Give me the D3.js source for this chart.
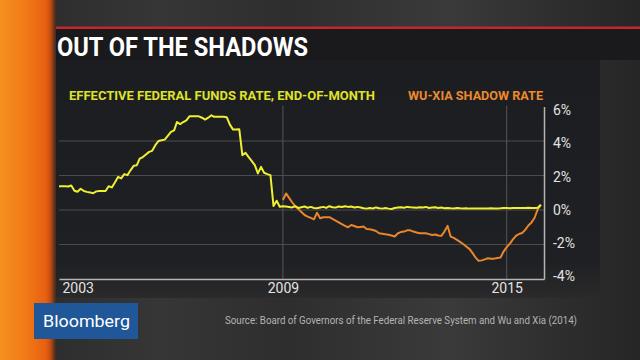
<!DOCTYPE html>
<html>
<head>
<meta charset="utf-8">
<script src="https://cdn.jsdelivr.net/npm/d3@7"></script>
<style>
  body { margin: 0; background: #2d2d2d; overflow: hidden; }
  svg { display: block; }
  text { font-family: Roboto, "Liberation Sans", sans-serif; }
</style>
</head>
<body>
<script>
// effective fed funds rate, end of month, Jan 2003 - Dec 2015
const fedFunds = [
  1.38, 1.37, 1.37, 1.36, 1.42, 1.12, 1.06, 1.23, 1.10, 1.05, 1.02, 0.97,  // 2003
  1.08, 1.10, 1.10, 1.10, 1.38, 1.31, 1.60, 1.92, 1.83, 2.08, 2.02, 2.30,  // 2004
  2.56, 2.60, 2.98, 3.07, 3.22, 3.37, 3.43, 3.76, 4.00, 4.04, 4.08, 4.30,  // 2005
  4.53, 4.62, 5.10, 4.98, 5.10, 5.20, 5.43, 5.43, 5.43, 5.43, 5.35, 5.24,  // 2006
  5.35, 5.49, 5.40, 5.40, 5.40, 5.40, 5.38, 4.95, 4.66, 4.66, 4.68, 3.18,  // 2007
  3.31, 3.06, 2.85, 2.60, 2.12, 2.50, 2.16, 2.08, 2.02, 0.23, 0.54, 0.19,  // 2008
  0.22, 0.20, 0.18, 0.15, 0.22, 0.12, 0.16, 0.20, 0.13, 0.18, 0.12, 0.10,  // 2009
  0.14, 0.18, 0.12, 0.22, 0.16, 0.14, 0.20, 0.17, 0.22, 0.18, 0.20, 0.15,  // 2010
  0.18, 0.14, 0.10, 0.08, 0.12, 0.09, 0.15, 0.10, 0.08, 0.12, 0.08, 0.06,  // 2011
  0.12, 0.14, 0.16, 0.13, 0.18, 0.16, 0.15, 0.13, 0.16, 0.15, 0.18, 0.12,  // 2012
  0.14, 0.16, 0.12, 0.14, 0.10, 0.12, 0.10, 0.09, 0.12, 0.10, 0.09, 0.10,  // 2013
  0.08, 0.08, 0.09, 0.08, 0.09, 0.08, 0.09, 0.10, 0.09, 0.09, 0.10, 0.12,  // 2014
  0.11, 0.10, 0.12, 0.11, 0.12, 0.12, 0.12, 0.13, 0.12, 0.12, 0.13, 0.30   // 2015
];

// Wu-Xia shadow rate, Jan 2009 - Dec 2015
const shadowRate = [
   0.58,  0.96,  0.72,  0.45,  0.22,  0.05, -0.12, -0.29, -0.38, -0.46, -0.54, -0.16,  // 2009
  -0.48, -0.42, -0.42, -0.42, -0.52, -0.62, -0.72, -0.82, -0.92, -1.00, -0.87, -0.93,  // 2010
  -1.00, -0.98, -0.96, -1.10, -1.12, -1.16, -1.22, -1.35, -1.38, -1.41, -1.43, -1.48,  // 2011
  -1.54, -1.35, -1.28, -1.25, -1.18, -1.18, -1.25, -1.30, -1.35, -1.35, -1.35, -1.40,  // 2012
  -1.45, -1.42, -1.48, -1.50, -1.25, -0.92, -1.54, -1.62, -1.73, -1.85, -1.97, -2.12,  // 2013
  -2.25, -2.50, -2.75, -2.95, -2.92, -2.86, -2.80, -2.83, -2.82, -2.78, -2.76, -2.41,  // 2014
  -2.15, -1.95, -1.72, -1.50, -1.39, -1.33, -1.15, -0.90, -0.72, -0.45,  0.05,  0.30   // 2015
];

const fedStart = [2003, 0];
const shadowStart = [2009, 0];
const yearTicks = [2003, 2009, 2015];
const pctTicks = [-4, -2, 0, 2, 4, 6];

const titleText = "OUT OF THE SHADOWS";
const fedLabel = "EFFECTIVE FEDERAL FUNDS RATE, END-OF-MONTH";
const shadowLabel = "WU-XIA SHADOW RATE";
const sourceText = "Source: Board of Governors of the Federal Reserve System and Wu and Xia (2014)";

function toSeries(values, start) {
  return values.map((v, i) => ({ date: new Date(start[0], start[1] + i, 1), value: v }));
}

const fedData = toSeries(fedFunds, fedStart);
const shadowData = toSeries(shadowRate, shadowStart);

const width = 640, height = 360;
const plot = { left: 59, right: 544, top: 106.5, bottom: 279 };

const svg = d3.select("body").append("svg")
  .attr("width", width)
  .attr("height", height);

const defs = svg.append("defs");

const bg = defs.append("linearGradient").attr("id", "bg").attr("x1", 0).attr("x2", 1).attr("y1", 0).attr("y2", 0);
[[0, "#2a2a2a"], [0.25, "#363636"], [0.45, "#2e2e2e"], [0.7, "#3a3a3a"], [0.9, "#2c2c2c"], [1, "#262626"]]
  .forEach(s => bg.append("stop").attr("offset", s[0]).attr("stop-color", s[1]));

const orange = defs.append("linearGradient").attr("id", "orange").attr("x1", 0).attr("x2", 1).attr("y1", 0).attr("y2", 0);
[[0, "#f5901f"], [0.45, "#f27a18"], [0.82, "#e86010"], [0.9, "#c44c0e"], [1, "#3a2a22"]]
  .forEach(s => orange.append("stop").attr("offset", s[0]).attr("stop-color", s[1]));

const panelFade = defs.append("linearGradient").attr("id", "panelFade").attr("x1", 0).attr("x2", 0).attr("y1", 0).attr("y2", 1);
[[0, "#1c1d20"], [0.85, "#1f2023"], [1, "#2a2a2b"]]
  .forEach(s => panelFade.append("stop").attr("offset", s[0]).attr("stop-color", s[1]));

// background, orange strip, title bar, chart panel
svg.append("rect").attr("width", width).attr("height", height).attr("fill", "url(#bg)");
svg.append("rect").attr("x", 55).attr("y", 60).attr("width", 545).attr("height", 238).attr("fill", "url(#panelFade)");
svg.append("rect").attr("x", 55).attr("y", 28).attr("width", 585).attr("height", 32).attr("fill", "#1a1a1c");
svg.append("rect").attr("x", 55).attr("y", 26.5).attr("width", 585).attr("height", 2.5).attr("fill", "#c4262b");
svg.append("rect").attr("x", 0).attr("y", 0).attr("width", 56).attr("height", height).attr("fill", "url(#orange)");

svg.append("text")
  .attr("x", 57).attr("y", 56)
  .attr("fill", "#ffffff")
  .attr("font-size", 26)
  .attr("font-weight", 700)
  .attr("textLength", 251)
  .attr("lengthAdjust", "spacingAndGlyphs")
  .text(titleText);

svg.append("text")
  .attr("x", 69).attr("y", 99.5)
  .attr("fill", "#dfe22a")
  .attr("font-size", 13)
  .attr("font-weight", 700)
  .attr("textLength", 306)
  .attr("lengthAdjust", "spacingAndGlyphs")
  .text(fedLabel);

svg.append("text")
  .attr("x", 408).attr("y", 99.5)
  .attr("fill", "#ec8a2c")
  .attr("font-size", 13)
  .attr("font-weight", 700)
  .attr("textLength", 135)
  .attr("lengthAdjust", "spacingAndGlyphs")
  .text(shadowLabel);

const x = d3.scaleTime()
  .domain([new Date(2003, 0, 1), new Date(2016, 0, 1)])
  .range([plot.left, plot.right]);

const y = d3.scaleLinear()
  .domain([-4, 6])
  .range([plot.bottom, plot.top]);

// tick labels on the right sit a little inside the top/bottom grid
const yLabel = d3.scaleLinear()
  .domain([-4, 6])
  .range([277, 110.5]);

// grid
svg.append("g")
  .selectAll("line")
  .data(pctTicks.filter(d => d > -4 && d < 6))
  .join("line")
  .attr("x1", plot.left).attr("x2", plot.right)
  .attr("y1", d => y(d)).attr("y2", d => y(d))
  .attr("stroke", "#4b4c50")
  .attr("stroke-width", 1);

svg.append("g")
  .selectAll("line")
  .data(yearTicks.slice(1))
  .join("line")
  .attr("x1", d => x(new Date(d, 0, 1))).attr("x2", d => x(new Date(d, 0, 1)))
  .attr("y1", plot.top - 1).attr("y2", plot.bottom)
  .attr("stroke", "#55565a")
  .attr("stroke-width", 1);

// axes
const xAxis = d3.axisBottom(x)
  .tickValues(yearTicks.map(d => new Date(d, 0, 1)))
  .tickFormat(d3.timeFormat("%Y"))
  .tickSize(0)
  .tickPadding(4);

const gx = svg.append("g")
  .attr("transform", `translate(0,${plot.bottom})`)
  .call(xAxis);
gx.select(".domain").attr("stroke", "#b5b5b5").attr("stroke-width", 1.5);
gx.selectAll("text")
  .attr("fill", "#e2e2e2")
  .attr("font-size", 14)
  .style("text-anchor", (d, i) => i === 0 ? "start" : "middle")
  .attr("dx", (d, i) => i === 0 ? 3 : 0);

const yAxis = d3.axisRight(y)
  .tickValues(pctTicks)
  .tickFormat(d => d + "%")
  .tickSize(0)
  .tickPadding(9);

const gy = svg.append("g")
  .attr("transform", `translate(${plot.right},0)`)
  .call(yAxis);
gy.select(".domain").attr("stroke", "#b5b5b5").attr("stroke-width", 1.5);
gy.selectAll(".tick").attr("transform", d => `translate(0,${yLabel(d)})`);
gy.selectAll("text")
  .attr("fill", "#e2e2e2")
  .attr("font-size", 14);

// lines
const line = d3.line()
  .x(d => x(d.date))
  .y(d => y(d.value));

svg.append("path")
  .datum(shadowData)
  .attr("fill", "none")
  .attr("stroke", "#e8862c")
  .attr("stroke-width", 2)
  .attr("stroke-linejoin", "round")
  .attr("d", line);

svg.append("path")
  .datum(fedData)
  .attr("fill", "none")
  .attr("stroke", "#eef031")
  .attr("stroke-width", 2)
  .attr("stroke-linejoin", "round")
  .attr("d", line);

// footer
svg.append("rect").attr("x", 34).attr("y", 303).attr("width", 104).attr("height", 36).attr("fill", "#1f5798");
svg.append("text")
  .attr("x", 43).attr("y", 326.5)
  .attr("fill", "#ffffff")
  .attr("font-size", 17)
  .attr("textLength", 87)
  .attr("lengthAdjust", "spacingAndGlyphs")
  .text("Bloomberg");

svg.append("text")
  .attr("x", 225).attr("y", 324)
  .attr("fill", "#b4b4b4")
  .attr("font-size", 11)
  .attr("textLength", 352)
  .attr("lengthAdjust", "spacingAndGlyphs")
  .text(sourceText);
</script>
</body>
</html>
